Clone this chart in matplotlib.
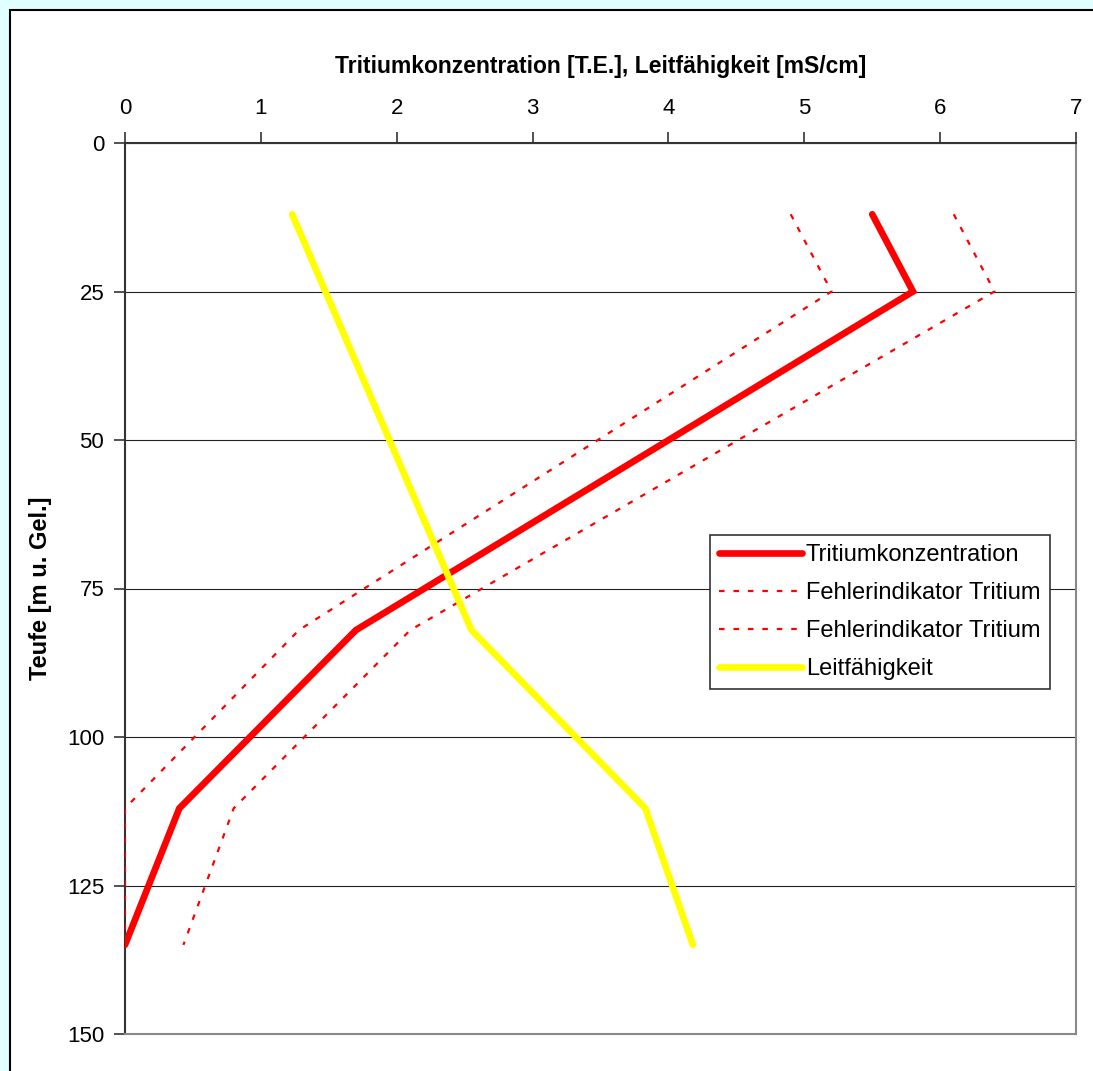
import matplotlib.pyplot as plt
from matplotlib.patches import Rectangle

plt.rcParams['font.family'] = ['Liberation Sans', 'DejaVu Sans']

tiefe = [12, 25, 82, 112, 135]
tritium = [5.5, 5.8, 1.7, 0.4, 0.0]
fehler_unten = [4.9, 5.2, 1.28, 0.0, 0.0]
fehler_oben = [6.1, 6.4, 2.1, 0.8, 0.43]

tiefe_lf = [12, 82, 112, 135]
leitfaehigkeit = [1.23, 2.55, 3.83, 4.18]

fig = plt.figure(figsize=(10.93, 10.71), dpi=100)
fig.patch.set_facecolor('#e0ffff')

# weisser Rahmen um das Diagramm
fig.patches.append(Rectangle((10 / 1093, -0.05), 1.1, (1071 - 10) / 1071 + 0.05,
                             transform=fig.transFigure, facecolor='white',
                             edgecolor='black', linewidth=1.5, zorder=-5))

ax = fig.add_axes([125 / 1093, 37 / 1071, 951 / 1093, 891 / 1071])
ax.set_facecolor('white')

ax.plot(tritium, tiefe, color='red', lw=4.8, solid_capstyle='round',
        solid_joinstyle='miter', label='Tritiumkonzentration', zorder=4)
ax.plot(fehler_unten, tiefe, color='red', lw=1.6, linestyle=(0, (2.5, 4)),
        label='Fehlerindikator Tritium', zorder=3)
ax.plot(fehler_oben, tiefe, color='red', lw=1.6, linestyle=(0, (2.5, 4)),
        label='Fehlerindikator Tritium', zorder=3)
ax.plot(leitfaehigkeit, tiefe_lf, color='#ffff00', lw=4.8, solid_capstyle='round',
        label='Leitfähigkeit', zorder=4)

ax.set_xlim(0, 7)
ax.set_ylim(150, 0)
ax.set_xticks(range(0, 8))
ax.set_yticks(range(0, 151, 25))
ax.xaxis.tick_top()
ax.xaxis.set_label_position('top')
ax.tick_params(axis='both', direction='out', length=8, width=1.2,
               labelsize=16, colors='#333333', labelcolor='black', pad=7)
ax.tick_params(axis='x', pad=9)

ax.grid(axis='y', color='#222222', lw=0.8)
ax.set_axisbelow(True)
for side in ['top', 'left']:
    ax.spines[side].set_color('#333333')
    ax.spines[side].set_linewidth(1.5)
for side in ['right', 'bottom']:
    ax.spines[side].set_color('#888888')
    ax.spines[side].set_linewidth(1.5)

ax.set_xlabel('Tritiumkonzentration [T.E.], Leitfähigkeit [mS/cm]',
              fontsize=16.5, fontweight='bold', labelpad=18)
ax.set_ylabel('Teufe [m u. Gel.]', fontsize=17, fontweight='bold')
ax.yaxis.set_label_coords(-73 / 951, 0.5)

leg = ax.legend(loc='upper left', bbox_to_anchor=(585 / 951, 1 - (535 - 143) / 891),
                fontsize=17, frameon=True, fancybox=False, handlelength=3.5,
                handletextpad=0.15, borderpad=0.4, labelspacing=0.67,
                borderaxespad=0)
leg.get_frame().set_edgecolor('#333333')
leg.get_frame().set_linewidth(1.2)
leg.get_frame().set_alpha(1)

fig.savefig('out.png', dpi=100, facecolor=fig.get_facecolor())
